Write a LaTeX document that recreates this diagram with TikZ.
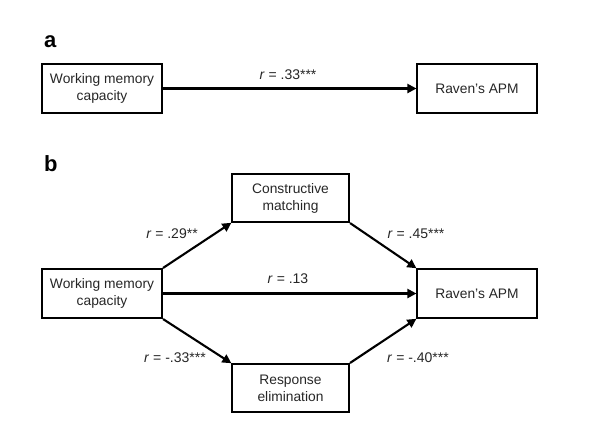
\documentclass[tikz,border=0pt]{standalone}
\usepackage{fontspec}
\setmainfont{Liberation Sans}
\usetikzlibrary{arrows.meta}
\tikzset{
  box/.style={draw=black, line width=2.1pt, minimum width=120pt, minimum height=49pt, inner sep=0pt, align=center, font=\fontsize{13.8}{17}\selectfont, text=black!85},
  conn/.style={line width=2.1pt, -{Triangle[length=9pt,width=9pt]}, shorten >=-0.5pt},
  lab/.style={font=\fontsize{14}{16}\selectfont, text=black!85, inner sep=0pt},
  panel/.style={font=\fontsize{22}{24}\bfseries\selectfont, inner sep=0pt, anchor=base west}
}
\begin{document}
\begin{tikzpicture}[x=1pt,y=-1pt]
\useasboundingbox (0,0) rectangle (596,432);
% panel a
\node[panel] (pa) at (44,47) {a};
\node[box] (wma) at (102,88.5) {Working memory\\capacity};
\node[box] (ra) at (477,88.5) {Raven’s APM};
\draw[conn] (wma.east) -- (ra.west);
\node[lab] (la) at (288,75) {\textit{r} = .33***};
% panel b
\node[panel] (pb) at (44,171) {b};
\node[box] (wmb) at (102,293.5) {Working memory\\capacity};
\node[box] (rb) at (477,293.5) {Raven’s APM};
\node[box, minimum width=117pt, minimum height=48pt] (cm) at (290.5,198) {Constructive\\matching};
\node[box, minimum width=117pt, minimum height=48pt] (re) at (290.5,388) {Response\\elimination};
\draw[conn] (wmb.north east) -- (cm.south west);
\draw[conn] (wmb.east) -- (rb.west);
\draw[conn] (wmb.south east) -- (re.north west);
\draw[conn] (cm.south east) -- (rb.north west);
\draw[conn] (re.north east) -- (rb.south west);
\node[lab] (l1) at (172,234) {\textit{r} = .29**};
\node[lab] (l2) at (416,234) {\textit{r} = .45***};
\node[lab] (l3) at (288,279) {\textit{r} = .13};
\node[lab] (l4) at (175,358) {\textit{r} = -.33***};
\node[lab] (l5) at (418,358) {\textit{r} = -.40***};
\end{tikzpicture}
\end{document}
